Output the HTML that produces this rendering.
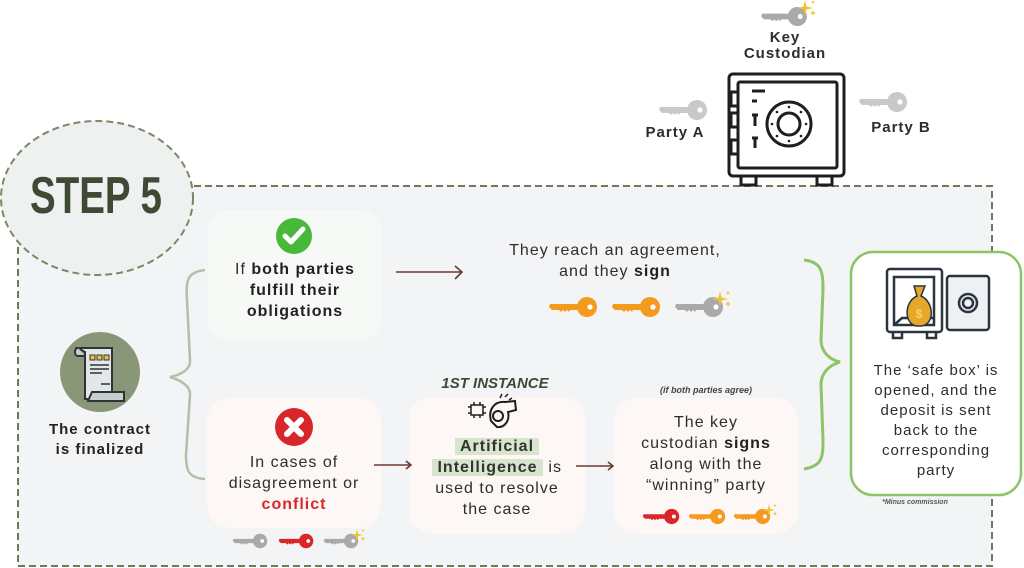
<!DOCTYPE html>
<html><head><meta charset="utf-8"><style>
html,body{margin:0;padding:0;background:#fff;}
#c{position:relative;width:1024px;height:568px;overflow:hidden;font-family:"Liberation Sans","DejaVu Sans",sans-serif;color:#2b2b2b;}
svg{position:absolute;left:0;top:0;}
.t{position:absolute;text-align:center;font-size:16px;line-height:21px;letter-spacing:1px;color:#2d2d2d;white-space:nowrap;}
b{font-weight:bold;color:#222;}
</style></head><body><div id="c">
<svg width="1024" height="568" viewBox="0 0 1024 568">
<defs>
<symbol id="key" viewBox="0 0 50 22">
<circle cx="39" cy="11" r="10"/>
<path d="M2 8 L31 8 L31 14 L22 14 L21 16 L19 14 L17 16 L15 14 L13 16 L11 14 L4 14 L1 11 Z"/>
<circle cx="42" cy="11" r="2.6" fill="#fff"/>
</symbol>
<symbol id="spark" viewBox="0 0 20 20">
<path d="M8 0 L9.5 6.5 L16 8 L9.5 9.5 L8 16 L6.5 9.5 L0 8 L6.5 6.5 Z" fill="#f2c12e"/>
<path d="M16 10 L16.8 12.2 L19 13 L16.8 13.8 L16 16 L15.2 13.8 L13 13 L15.2 12.2Z" fill="#f2c12e"/>
<path d="M16 0 L16.6 1.4 L18 2 L16.6 2.6 L16 4 L15.4 2.6 L14 2 L15.4 1.4Z" fill="#f2c12e"/>
</symbol>
</defs>
<rect x="18" y="186" width="974" height="380" fill="#f2f4f6" stroke="#6b7a57" stroke-width="2" stroke-dasharray="7,4"/>
<ellipse cx="97" cy="198" rx="96" ry="77" fill="#eff1f0" stroke="#7a8866" stroke-width="2" stroke-dasharray="7,4"/>
<rect x="208" y="210" width="174" height="130" rx="22" fill="#f6f9f5"/>
<rect x="207" y="398" width="174" height="130" rx="22" fill="#fdf7f5"/>
<rect x="409" y="397" width="176" height="136" rx="22" fill="#fdf8f6"/>
<rect x="614" y="398" width="184" height="135" rx="22" fill="#fdf8f6"/>
<rect x="851" y="252" width="170" height="243" rx="22" fill="#fff" stroke="#8dc465" stroke-width="2.5"/>
<path d="M205 270 C186 272 186 282 187 300 L190 360 C191 370 180 375 170 377 C180 380 191 386 190 395 L186 455 C186 470 188 478 205 479" fill="none" stroke="#b5bfa7" stroke-width="2.5"/>
<path d="M804 260 C822 262 823 272 823 290 L821 340 C821 352 830 360 840 362 C830 365 821 372 821 385 L823 440 C823 458 822 466 804 469" fill="none" stroke="#8dc465" stroke-width="3"/>
<circle cx="294" cy="236" r="18" fill="#48b83a"/>
<path d="M285 236 L291 242 L303 229" fill="none" stroke="#fff" stroke-width="5" stroke-linecap="round" stroke-linejoin="round"/>
<circle cx="294" cy="427" r="19" fill="#d9262a"/>
<path d="M287 420 L301 434 M301 420 L287 434" stroke="#fff" stroke-width="6" stroke-linecap="round"/>
<g stroke="#6b3a2e" stroke-width="1.6" fill="none">
<path d="M396 272 L462 272 M455 266 L462 272 L455 279"/>
<path d="M374 465 L411 465 M406 461 L411 465 L406 469"/>
<path d="M576 466 L613 466 M608 462 L613 466 L608 470"/>
</g>
<circle cx="100" cy="372" r="40" fill="#8a9678"/>
<path d="M78 348 L112 348 L112 399 L85 399 L85 352 Z" fill="#e3e7e8" stroke="#2f3437" stroke-width="2"/>
<path d="M78 348 C74 348 74 356 78 356 L85 356" fill="#c7ced2" stroke="#2f3437" stroke-width="2"/>
<path d="M92 392 L124 392 L124 401 L88 401 Z" fill="#c7ced2" stroke="#2f3437" stroke-width="2"/>
<g fill="#f2c12e" stroke="#2f3437" stroke-width="1"><rect x="90" y="355" width="5" height="5"/><rect x="97" y="355" width="5" height="5"/><rect x="104" y="355" width="5" height="5"/></g>
<g stroke="#2f3437" stroke-width="1.5"><path d="M90 365 L109 365 M90 369 L109 369 M90 373 L102 373 M101 384 L110 384"/></g>
<g fill="none" stroke="#1e1e1e" stroke-width="3">
<rect x="729" y="74" width="115" height="102" rx="4"/>
<rect x="738" y="82" width="99" height="86" rx="2"/>
<rect x="731" y="92" width="7" height="14"/><rect x="731" y="113" width="7" height="14"/><rect x="731" y="140" width="7" height="14"/>
<circle cx="789" cy="124" r="22"/><circle cx="789" cy="124" r="11"/>
<rect x="741" y="176" width="15" height="9"/><rect x="817" y="176" width="15" height="9"/>
<path d="M752 91 L765 91 M752 101 L757 101 M752 115 L758 115 M755 115 L755 126 M752 138 L758 138 M755 138 L755 148"/>
</g>
<g fill="#1e1e1e"><circle cx="789" cy="107" r="1.3"/><circle cx="789" cy="141" r="1.3"/><circle cx="772" cy="124" r="1.3"/><circle cx="806" cy="124" r="1.3"/><circle cx="777" cy="112" r="1.3"/><circle cx="801" cy="112" r="1.3"/><circle cx="777" cy="136" r="1.3"/><circle cx="801" cy="136" r="1.3"/></g>
<g fill="#c9c9c9"><use href="#key" x="658" y="99" width="50" height="22"/><use href="#key" x="858" y="91" width="50" height="22"/></g>
<g fill="#a9a9a9"><use href="#key" x="760" y="6" width="48" height="21"/></g>
<use href="#spark" x="797" y="0" width="20" height="20"/>
<g fill="#f39a1f"><use href="#key" x="548" y="296" width="50" height="22"/><use href="#key" x="611" y="296" width="50" height="22"/></g>
<g fill="#a9a9a9"><use href="#key" x="674" y="296" width="50" height="22"/></g>
<use href="#spark" x="712" y="291" width="20" height="20"/>
<g fill="#a9a9a9"><use href="#key" x="232" y="533" width="36" height="16"/><use href="#key" x="323" y="533" width="36" height="16"/></g>
<g fill="#d9262a"><use href="#key" x="278" y="533" width="36" height="16"/></g>
<use href="#spark" x="351" y="529" width="15" height="15"/>
<g fill="#d9262a"><use href="#key" x="642" y="508" width="38" height="17"/></g>
<g fill="#f39a1f"><use href="#key" x="688" y="508" width="38" height="17"/><use href="#key" x="733" y="508" width="38" height="17"/></g>
<use href="#spark" x="763" y="504" width="15" height="15"/>
<g fill="none" stroke="#1e1e1e" stroke-width="1.5">
<rect x="471" y="405" width="12" height="10"/>
<path d="M468 407 L471 407 M468 413 L471 413 M483 407 L486 407 M483 413 L486 413 M474 402 L474 405 M480 402 L480 405 M474 415 L474 418 M480 415 L480 418"/>
<path d="M491 421 C488 410 494 401 505 402 L515 401 L516 410 L508 412 C510 420 505 428 497 427 Z" stroke-width="2"/>
<circle cx="498" cy="416" r="5" stroke-width="2"/>
<path d="M500 398 L502 394 M505 397 L508 394 M509 400 L512 398"/>
</g>
<g stroke="#2b3340" stroke-width="2.5" fill="none">
<rect x="887" y="269" width="55" height="63" rx="3"/>
<rect x="894" y="277" width="40" height="48"/>
<path d="M894 325 L902 318 L934 318"/>
<rect x="947" y="276" width="42" height="54" rx="3" fill="#eef1f3"/>
<circle cx="968" cy="303" r="9"/><circle cx="968" cy="303" r="5"/>
<path d="M893 332 L893 338 L902 338 L902 332 M927 332 L927 338 L936 338 L936 332"/>
</g>
<path d="M914 286 L925 286 L921 296 C935 302 935 327 919 326 C904 327 903 302 917 296 Z" fill="#e6a82a" stroke="#2b3340" stroke-width="1.5"/>
<text x="919" y="318" font-family="Liberation Sans" font-weight="bold" font-size="12" fill="#f6d36a" text-anchor="middle">$</text>
</svg>
<div class="t" style="left:0px;top:168px;width:192px;font-weight:bold;font-size:52px;line-height:56px;color:#3e4a33;letter-spacing:0;transform:scaleX(0.74);">STEP 5</div>
<div class="t" style="left:208px;top:259px;width:174px;">If <b>both parties</b><br><b>fulfill their</b><br><b>obligations</b></div>
<div class="t" style="left:30px;top:420px;width:140px;font-weight:bold;font-size:15px;line-height:20px;color:#222;">The contract<br>is finalized</div>
<div class="t" style="left:197px;top:452px;width:194px;">In cases of<br>disagreement or<br><b style="color:#d9262a">conflict</b></div>
<div class="t" style="left:460px;top:240px;width:310px;">They reach an agreement,<br>and they <b>sign</b></div>
<div class="t" style="left:420px;top:373px;width:150px;font-style:italic;font-weight:bold;font-size:15px;color:#3e4a33;letter-spacing:0;">1ST INSTANCE</div>
<div class="t" style="left:399px;top:436px;width:196px;"><span style="background:#d8e5cd;font-weight:bold;color:#333;">&nbsp;Artificial&nbsp;</span><br><span style="background:#d8e5cd;font-weight:bold;color:#333;">&nbsp;Intelligence&nbsp;</span> is<br>used to resolve<br>the case</div>
<div class="t" style="left:614px;top:384px;width:184px;font-style:italic;font-weight:bold;font-size:9px;line-height:12px;color:#444;letter-spacing:0;">(if both parties agree)</div>
<div class="t" style="left:606px;top:412px;width:200px;">The key<br>custodian <b>signs</b><br>along with the<br>“winning” party</div>
<div class="t" style="left:846px;top:361px;width:180px;font-size:15px;line-height:20px;">The ‘safe box’ is<br>opened, and the<br>deposit is sent<br>back to the<br>corresponding<br>party</div>
<div class="t" style="left:855px;top:498px;width:120px;font-style:italic;font-weight:bold;font-size:7px;line-height:10px;color:#555;letter-spacing:0;">*Minus commission</div>
<div class="t" style="left:730px;top:30px;width:110px;font-weight:bold;font-size:15px;line-height:16px;">Key<br>Custodian</div>
<div class="t" style="left:632px;top:122px;width:86px;font-weight:bold;font-size:15px;">Party A</div>
<div class="t" style="left:858px;top:117px;width:86px;font-weight:bold;font-size:15px;">Party B</div>
</div></body></html>
